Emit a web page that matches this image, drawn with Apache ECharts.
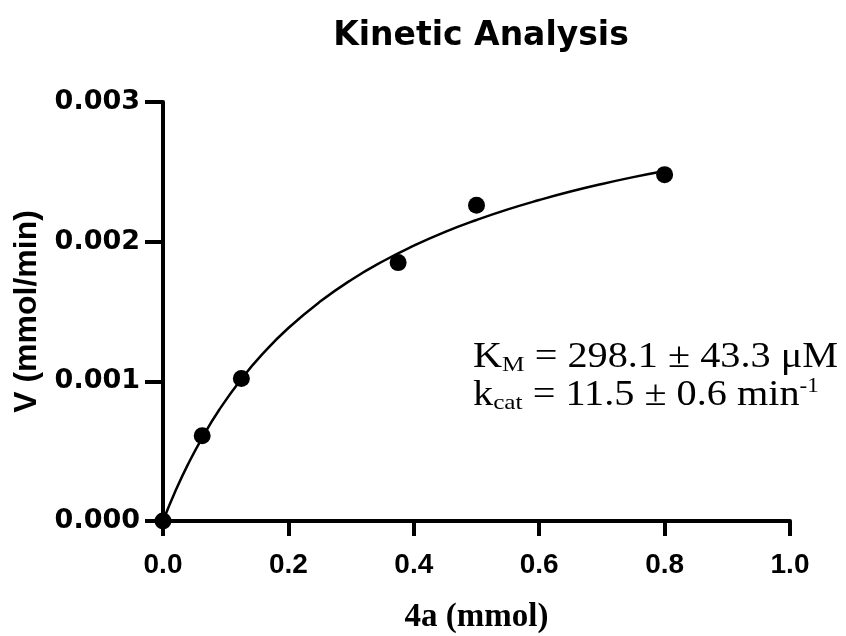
<!DOCTYPE html>
<html>
<head>
<meta charset="utf-8">
<script src="https://cdn.jsdelivr.net/npm/echarts@6/dist/echarts.min.js"></script>
<style>
html,body{margin:0;padding:0;background:#fff;}
#chart{width:846px;height:636px;}
</style>
</head>
<body>
<div id="chart"></div>
<script>
// Measured data points: substrate 4a (mmol) vs rate V (mmol/min)
var substrate = [0, 0.0625, 0.125, 0.375, 0.5, 0.8];
var rate = [0, 0.00061, 0.00102, 0.00185, 0.00226, 0.00248];

// Fitted curve, values
var fitX = [0, 0.02, 0.04, 0.0625, 0.09, 0.125, 0.16, 0.2, 0.25, 0.3, 0.35, 0.4, 0.45, 0.5, 0.55, 0.6, 0.65, 0.7, 0.75, 0.8];
var fitY = [0, 0.000216, 0.000407, 0.000596, 0.000798, 0.001017, 0.001202, 0.001382, 0.001569, 0.001726, 0.001858, 0.001971, 0.00207, 0.002155, 0.002231, 0.002298, 0.002359, 0.002413, 0.002462, 0.002506];

var xTicks = ['0.0', '0.2', '0.4', '0.6', '0.8', '1.0'];
var yTicks = ['0.000', '0.001', '0.002', '0.003'];

var chart = echarts.init(document.getElementById('chart'));

var pts = substrate.map(function (x, i) { return [x, rate[i]]; });
var fit = fitX.map(function (x, i) { return [x, fitY[i]]; });

chart.setOption({
  animation: false,
  backgroundColor: '#ffffff',
  title: {
    text: 'Kinetic Analysis',
    left: 476,
    top: 15,
    textAlign: 'center',
    textStyle: { fontFamily: 'DejaVu Sans', fontWeight: 'bold', fontSize: 33, color: '#000' }
  },
  grid: { left: 163, right: 56, top: 102, bottom: 115, containLabel: false, outerBoundsMode: 'none' },
  xAxis: {
    type: 'value', min: 0, max: 1, interval: 0.2,
    name: '4a (mmol)', nameLocation: 'middle', nameGap: 80,
    nameTextStyle: { fontFamily: 'Liberation Serif', fontWeight: 'bold', fontSize: 33, color: '#000' },
    axisLine: { show: true, lineStyle: { color: '#000', width: 4 } },
    axisTick: { show: true, length: 15, lineStyle: { color: '#000', width: 4 } },
    axisLabel: {
      margin: 30, color: '#000', fontFamily: 'Liberation Sans', fontWeight: 'bold', fontSize: 28,
      formatter: function (v) { var i = Math.round(v / 0.2); return xTicks[i] !== undefined ? xTicks[i] : ''; }
    },
    splitLine: { show: false }
  },
  yAxis: {
    type: 'value', min: 0, max: 0.003, interval: 0.001,
    name: 'V (mmol/min)', nameLocation: 'middle', nameGap: 120, nameRotate: 90,
    nameTextStyle: { fontFamily: 'Liberation Sans', fontWeight: 'bold', fontSize: 32, color: '#000' },
    axisLine: { show: true, lineStyle: { color: '#000', width: 4 } },
    axisTick: { show: true, length: 18, lineStyle: { color: '#000', width: 4 } },
    axisLabel: {
      margin: 23, color: '#000', fontFamily: 'DejaVu Sans', fontWeight: 'bold', fontSize: 27,
      formatter: function (v) { var i = Math.round(v / 0.001); return yTicks[i] !== undefined ? yTicks[i] : ''; }
    },
    splitLine: { show: false }
  },
  series: [
    {
      type: 'line', data: fit, smooth: true, symbol: 'none', silent: true,
      lineStyle: { color: '#000', width: 2.5 }, z: 3
    },
    {
      type: 'scatter', data: pts, symbol: 'circle', symbolSize: 17, clip: false,
      itemStyle: { color: '#000', opacity: 1 }, z: 4
    }
  ],
  graphic: [{
    type: 'text', left: 473, top: 340, z: 10, scaleX: 1.15, scaleY: 1,
    style: {
      text: '{n|K}{s|M}{n| = 298.1 ± 43.3 μM}\n{n|k}{s|cat}{n| = 11.5 ± 0.6 min}{sup|-1}',
      fill: '#000',
      rich: {
        n: { fontFamily: 'Liberation Serif', fontSize: 35, lineHeight: 38, fill: '#000' },
        s: { fontFamily: 'Liberation Serif', fontSize: 22, lineHeight: 14, verticalAlign: 'bottom', fill: '#000' },
        sup: { fontFamily: 'Liberation Serif', fontSize: 20, lineHeight: 26, verticalAlign: 'top', fill: '#000' }
      }
    }
  }]
});
</script>
</body>
</html>
